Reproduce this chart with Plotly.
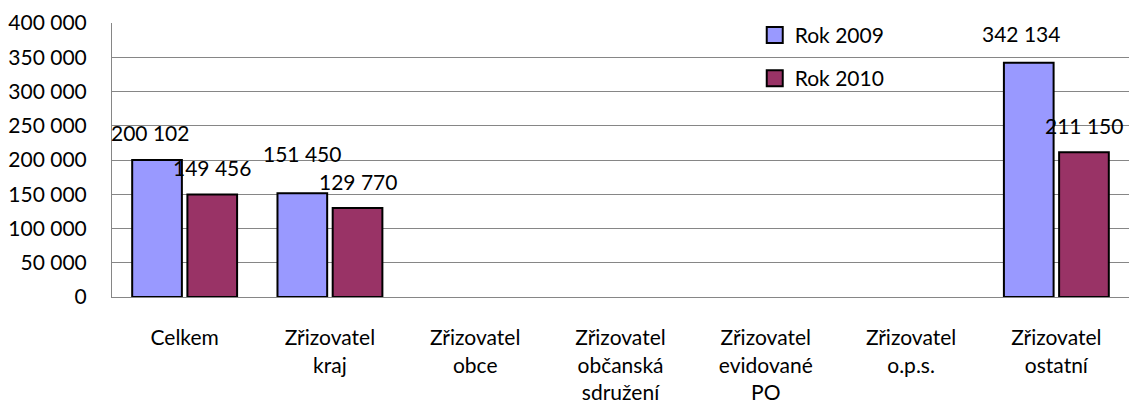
import plotly.graph_objects as go

categories = ["Celkem", "Zřizovatel<br>kraj", "Zřizovatel<br>obce", "Zřizovatel<br>občanská<br>sdružení",
              "Zřizovatel<br>evidované<br>PO", "Zřizovatel<br>o.p.s.", "Zřizovatel<br>ostatní"]
series_names = ["Rok 2009", "Rok 2010"]
values_2009 = [200102, 151450, None, None, None, None, 342134]
values_2010 = [149456, 129770, None, None, None, None, 211150]

colors = ["#9999FF", "#993366"]
FONT = "Lato"
FS = 21
BARGAP = 0.24

# label pixel nudges (style only): (series index, category index) -> (dx, dy)
label_nudge = {(0, 0): (-7, 27), (0, 1): (0, 40), (0, 6): (-8, 29)}

fig = go.Figure()
all_vals = [values_2009, values_2010]
for s, (name, vals) in enumerate(zip(series_names, all_vals)):
    fig.add_trace(go.Bar(
        x=list(range(len(categories))), y=vals, name=name,
        marker=dict(color=colors[s], line=dict(color="#000000", width=2)),
        showlegend=False,
    ))
    # legend proxy
    fig.add_trace(go.Scatter(
        x=[None], y=[None], mode="markers", name=name, legendgroup=name,
        marker=dict(symbol="square", size=16, color=colors[s], line=dict(color="#000000", width=2)),
    ))

annotations = []
half = (1 - BARGAP) / 4
for s, vals in enumerate(all_vals):
    for i, v in enumerate(vals):
        if v is None:
            continue
        dx, dy = label_nudge.get((s, i), (0, 27))
        annotations.append(dict(
            x=i + (-half if s == 0 else half), y=v, xref="x", yref="y",
            text=f"{v:,}".replace(",", " "), showarrow=False,
            xanchor="center", yanchor="middle", xshift=dx, yshift=dy,
            font=dict(family=FONT, size=FS, color="#000000"),
        ))

fig.update_layout(
    width=1129, height=412,
    margin=dict(l=112, r=0, t=23, b=115),
    paper_bgcolor="white", plot_bgcolor="white",
    separators=". ",
    font=dict(family=FONT, size=FS, color="#000000"),
    barmode="group", bargap=BARGAP, bargroupgap=0.1,
    showlegend=True,
    legend=dict(x=0.632, y=1.03, xanchor="left", yanchor="top",
                bgcolor="rgba(0,0,0,0)", font=dict(family=FONT, size=FS),
                tracegroupgap=13, itemsizing="trace"),
    annotations=annotations,
    shapes=[dict(type="rect", xref="paper", yref="paper",
                 x0=(713 - 112) / 1017, x1=(929 - 112) / 1017,
                 y0=(297 - 100) / 274, y1=1.05,
                 fillcolor="white", line=dict(width=0), layer="between")],
)
fig.update_xaxes(
    tickmode="array", tickvals=list(range(len(categories))), ticktext=categories,
    range=[-0.5, len(categories) - 0.5],
    showline=True, linecolor="#868686", linewidth=1, showgrid=False,
    ticks="", ticklabelstandoff=22,
)
fig.update_yaxes(
    range=[0, 400000], dtick=50000, tickformat=",d",
    showgrid=True, gridcolor="#868686", gridwidth=1,
    showline=True, linecolor="#868686", linewidth=1,
    zeroline=False, ticks="", ticklabelstandoff=20,
)
fig.write_html("out.html", post_script="document.body.style.margin='0';",
               config={"displayModeBar": False})
